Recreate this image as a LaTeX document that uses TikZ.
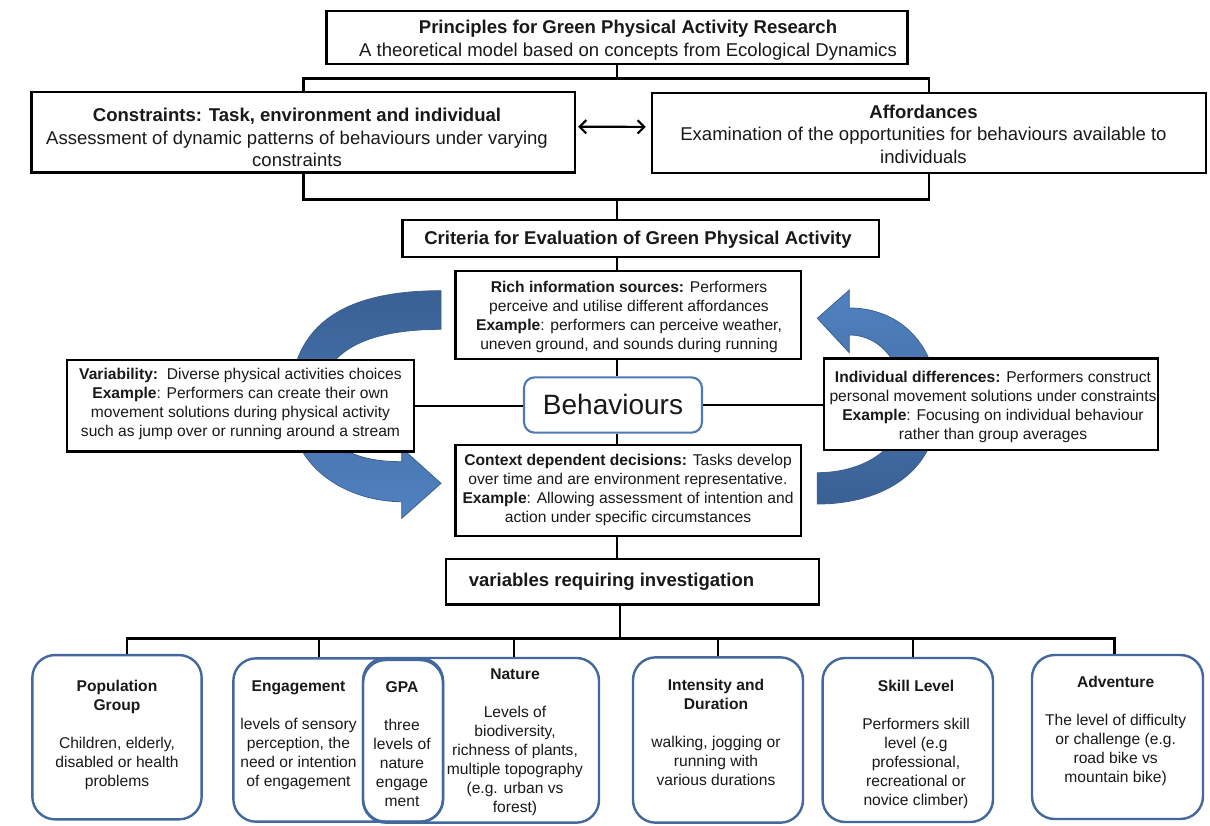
\documentclass[tikz,border=0pt]{standalone}
\usepackage{fontspec}
\setmainfont{Liberation Sans}
\usetikzlibrary{arrows.meta}
\definecolor{rboxc}{RGB}{66,104,158}
\definecolor{bboxc}{RGB}{79,121,178}
\definecolor{adark}{RGB}{58,96,148}
\definecolor{alight}{RGB}{80,130,192}
\definecolor{aedge}{RGB}{60,96,142}
\definecolor{txt}{RGB}{25,25,25}
\begin{document}
\begin{tikzpicture}[x=0.75pt,y=-0.75pt]
\tikzset{
  sqbox/.style={draw=black, line width=1.8pt, fill=white, inner sep=0pt, rectangle},
  rbox/.style={draw=rboxc, line width=1.8pt, rounded corners=17pt, inner sep=0pt, rectangle},
  big/.style={font=\fontsize{13.9}{17}\selectfont, align=center, text=txt, inner sep=0pt},
  small/.style={font=\fontsize{11.7}{14.25}\selectfont, align=center, text=txt, inner sep=0pt},
  conn/.style={line width=1.8pt, draw=black},
  bluearrow/.style={draw=aedge, line width=0.6pt}
}
\useasboundingbox (0,0) rectangle (1210,825);

% blue circular arrows (behind boxes)
\shade[bluearrow, top color=adark, bottom color=alight]
  (441,290.7) .. controls (350,290.7) and (290,320) .. (290,405)
  .. controls (290,470) and (350,501.7) .. (401.7,501.7)
  -- (401.7,518.3) -- (441,483.3) -- (401.7,448) -- (401.7,461.7)
  .. controls (352,461.7) and (320,445) .. (320,402)
  .. controls (320,352) and (365,329.3) .. (441,329.3) -- cycle;
\shade[bluearrow, top color=alight, bottom color=adark]
  (849.3,308) .. controls (900,308) and (938,345) .. (938,405)
  .. controls (938,470) and (885,504) .. (817.3,504)
  -- (817.3,472.7)
  .. controls (862,472.7) and (904,450) .. (904,405)
  .. controls (904,365) and (882,335) .. (849.3,335)
  -- (849.3,352.7) -- (817.3,318.3) -- (849.3,290) -- cycle;

% boxes
\node[sqbox, minimum width=436pt, minimum height=39.75pt] (princ) at (617,37.5) {};
\node[sqbox, minimum width=407.5pt, minimum height=60.5pt] (cons) at (303.3,132.3) {};
\node[sqbox, minimum width=415.5pt, minimum height=59.8pt] (affo) at (929,133) {};
\node[sqbox, minimum width=357.4pt, minimum height=27.75pt] (crit) at (640.7,238.5) {};
\node[sqbox, minimum width=259.1pt, minimum height=66pt] (rich) at (628.3,315) {};
\node[draw=bboxc, line width=1.6pt, rounded corners=8pt, fill=white, inner sep=0pt,
      minimum width=133.5pt, minimum height=41.5pt] (beh) at (613,405) {};
\node[sqbox, minimum width=259.1pt, minimum height=68.25pt] (ctx) at (628.3,490.5) {};
\node[sqbox, minimum width=260.25pt, minimum height=68.8pt] (var) at (240.5,405.8) {};
\node[sqbox, minimum width=250.7pt, minimum height=68.8pt] (ind) at (990.9,404.2) {};
\node[sqbox, minimum width=279.75pt, minimum height=34pt] (vars) at (632.5,581.7) {};

\node[rbox, fill=white, minimum width=127pt, minimum height=123.2pt] (pop) at (117,737.2) {};
\node[rbox, minimum width=157.3pt, minimum height=122.5pt] (eng) at (338.2,740) {};
\node[rbox, minimum width=177pt, minimum height=123.5pt] (nat) at (481,740.3) {};
\node[rbox, minimum width=60pt, minimum height=121.3pt] (gpa) at (403,740.9) {};
\node[rbox, fill=white, minimum width=127.5pt, minimum height=124pt] (inten) at (718,740) {};
\node[rbox, fill=white, minimum width=127.8pt, minimum height=123pt] (skill) at (907.8,740) {};
\node[rbox, fill=white, minimum width=128.25pt, minimum height=123pt] (adv) at (1117.5,737) {};

% texts
\node[big] (princT) at (628,40) {{\bfseries Principles for Green Physical Activity Research}\\A theoretical model based on concepts from Ecological Dynamics};
\node[big] (consT) at (297,137.4) {{\bfseries Constraints: Task, environment and individual}\\Assessment of dynamic patterns of behaviours under varying\\constraints};
\node[big] (affoT) at (923.5,134.2) {{\bfseries Affordances}\\Examination of the opportunities for behaviours available to\\individuals};
\node[big, font=\fontsize{13.9}{17}\selectfont\bfseries] (critT) at (638,240) {Criteria for Evaluation of Green Physical Activity};
\node[small] (richT) at (629,317) {\textbf{Rich information sources:} Performers\\perceive and utilise different affordances\\\textbf{Example}: performers can perceive weather,\\uneven ground, and sounds during running};
\node[font=\fontsize{21}{25}\selectfont, text=txt, inner sep=0pt] (behT) at (613,404) {Behaviours};
\node[small] (ctxT) at (628,490) {\textbf{Context dependent decisions:} Tasks develop\\over time and are environment representative.\\\textbf{Example}: Allowing assessment of intention and\\action under specific circumstances};
\node[small] (varT) at (240.5,404) {\textbf{Variability:}\ \ Diverse physical activities choices\\\textbf{Example}: Performers can create their own\\movement solutions during physical activity\\such as jump over or running around a stream};
\node[small] (indT) at (993,407) {\textbf{Individual differences:} Performers construct\\personal movement solutions under constraints\\\textbf{Example}: Focusing on individual behaviour\\rather than group averages};
\node[big, font=\fontsize{13.9}{17}\selectfont\bfseries, anchor=west] (varsT) at (468.6,581.7) {variables requiring investigation};

\node[small] (popT) at (117,735) {\textbf{Population}\\\textbf{Group}\\[14.25pt]Children, elderly,\\disabled or health\\problems};
\node[small] (engT) at (298.5,735) {\textbf{Engagement}\\[14.25pt]levels of sensory\\perception, the\\need or intention\\of engagement};
\node[small] (gpaT) at (402,744.5) {\textbf{GPA}\\[14.25pt]three\\levels of\\nature\\engage\\ment};
\node[small] (natT) at (515,742.3) {\textbf{Nature}\\[14.25pt]Levels of\\biodiversity,\\richness of plants,\\multiple topography\\(e.g. urban vs\\forest)};
\node[small] (intT) at (716,732) {\textbf{Intensity and}\\\textbf{Duration}\\[14.25pt]walking, jogging or\\running with\\various durations};
\node[small] (skT) at (916,744.6) {\textbf{Skill Level}\\[14.25pt]Performers skill\\level (e.g\\professional,\\recreational or\\novice climber)};
\node[small] (advT) at (1115.6,731) {\textbf{Adventure}\\[14.25pt]The level of difficulty\\or challenge (e.g.\\road bike vs\\mountain bike)};

% connectors
\coordinate (j1) at (617,78.3);
\coordinate (j2) at (617,199.3);
\coordinate (j3) at (620,638.5);
\draw[conn] (princ.south) -- (j1);
\draw[conn] (cons.north) |- (j1) -| (affo.north);
\draw[conn] (cons.south) |- (j2) -| (affo.south);
\draw[conn] (j2) -- (j2 |- crit.north);
\draw[conn] (j2 |- crit.south) -- (j2 |- rich.north);
\draw[conn] (j2 |- rich.south) -- (j2 |- beh.north);
\draw[conn] (j2 |- beh.south) -- (j2 |- ctx.north);
\draw[conn] (j2 |- ctx.south) -- (j2 |- vars.north);
\draw[conn] (var.east) -- (var.east -| beh.west);
\draw[conn] (beh.east) -- (beh.east -| ind.west);
\draw[line width=1.6pt, {Straight Barb[length=5pt,width=10pt]}-{Straight Barb[length=5pt,width=10pt]}, shorten <=1.5pt, shorten >=3.75pt]
  ([yshift=4.2pt]cons.east) -- ([yshift=4.6pt]affo.west);
\draw[conn] (j3 |- vars.south) -- (j3);
\draw[conn] ([xshift=7.5pt]pop.north) |- (j3);
\draw[conn] ([xshift=-14.6pt]eng.north) |- (j3);
\draw[conn] ([xshift=24.75pt]nat.north) |- (j3);
\draw[conn] (inten.north) |- (j3);
\draw[conn] ([xshift=4pt]skill.north) |- (j3);
\draw[conn] ([xshift=-2.3pt]adv.north) |- (j3);
\end{tikzpicture}
\end{document}
